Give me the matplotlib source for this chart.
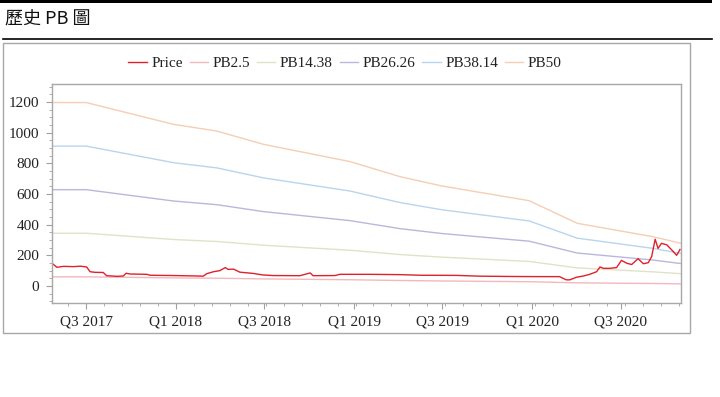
import matplotlib
matplotlib.use('Agg')
import matplotlib.pyplot as plt
import pandas as pd
from matplotlib.ticker import MultipleLocator, AutoMinorLocator
from matplotlib.patches import Rectangle
from matplotlib.lines import Line2D

# book-value based PB bands (breakpoints, straight lines between them)
pb_dates = ['2017-04-22', '2017-07-01', '2017-12-27', '2018-03-26', '2018-06-29', '2018-12-24',
            '2019-04-05', '2019-06-30', '2019-12-26', '2020-04-02', '2020-09-05', '2020-11-01']
pb2_5 = [59.8, 59.8, 52.7, 50.5, 46.2, 40.6, 35.7, 32.6, 27.8, 20.5, 16.1, 13.9]
pb14_38 = [344, 344, 303, 290, 266, 233, 205, 188, 160, 118, 92, 80]
pb26_26 = [628, 628, 554, 530, 485, 426, 374, 342, 292, 215, 169, 146]
pb38_14 = [912, 912, 804, 770, 705, 619, 544, 497, 424, 312, 245, 212]
pb50 = [1196, 1196, 1054, 1010, 924, 811, 713, 652, 556, 409, 321, 278]

# share price
price_dates = ['2017-04-22', '2017-05-02', '2017-05-16', '2017-06-05', '2017-06-19', '2017-07-02',
               '2017-07-09', '2017-07-19', '2017-08-05', '2017-08-12', '2017-09-02', '2017-09-15',
               '2017-09-21', '2017-09-29', '2017-11-02', '2017-11-09', '2017-12-27', '2018-01-31',
               '2018-02-26', '2018-03-05', '2018-03-19', '2018-04-01', '2018-04-12', '2018-04-18',
               '2018-04-29', '2018-05-12', '2018-06-08', '2018-06-28', '2018-07-19', '2018-09-12',
               '2018-10-03', '2018-10-09', '2018-11-23', '2018-12-03', '2019-02-03', '2019-04-05',
               '2019-05-16', '2019-07-30', '2019-09-15', '2019-11-16', '2020-01-16', '2020-02-26',
               '2020-03-11', '2020-03-18', '2020-04-01', '2020-04-15', '2020-04-28', '2020-05-12',
               '2020-05-19', '2020-05-26', '2020-06-08', '2020-06-22', '2020-07-02', '2020-07-13',
               '2020-07-23', '2020-08-05', '2020-08-16', '2020-08-26', '2020-09-02', '2020-09-09',
               '2020-09-15', '2020-09-22', '2020-10-03', '2020-10-13', '2020-10-23', '2020-10-30']
price = [148, 122, 128, 126, 129, 124,
         93, 89, 88, 67, 63, 65,
         83, 78, 76, 70, 68, 66,
         64, 80, 93, 100, 120, 108,
         110, 90, 82, 72, 68, 67,
         85, 67, 68, 76, 76, 74,
         70, 69, 64, 62, 61, 61,
         40, 40, 57, 65, 76, 93,
         124, 115, 115, 120, 167, 148,
         140, 178, 145, 152, 193, 305,
         245, 278, 268, 235, 200, 238]

tick_dates = ['2017-07-01', '2018-01-01', '2018-07-01', '2019-01-01',
              '2019-07-01', '2020-01-01', '2020-07-01']
tick_labels = ['Q3 2017', 'Q1 2018', 'Q3 2018', 'Q1 2019', 'Q3 2019', 'Q1 2020', 'Q3 2020']

plt.rcParams['font.family'] = ['Liberation Serif', 'DejaVu Serif']

W, H = 720, 397
fig = plt.figure(figsize=(W / 100, H / 100), dpi=100)

# page header decoration
fig.add_artist(Rectangle((0, 1 - 3 / H), 712 / W, 3 / H, transform=fig.transFigure,
                         color='black', lw=0))
fig.add_artist(Line2D([3 / W, 712 / W], [1 - 38.5 / H] * 2, transform=fig.transFigure,
                      color='black', lw=1.2))
fig.text(5 / W, 1 - 20 / H, '歷史 PB 圖', family=['Noto Sans CJK TC', 'DejaVu Sans'],
         fontsize=13, fontweight='light', va='center', ha='left', color='#111111')
fig.add_artist(Rectangle((3 / W, 1 - 333 / H), 687 / W, 290 / H, transform=fig.transFigure,
                         fill=False, edgecolor='#a8a8a8', lw=1))

ax = fig.add_axes([52 / W, 1 - 303 / H, 629 / W, 219 / H])

pbd = pd.to_datetime(pb_dates)
ax.plot(pbd, pb50, color='#f6cdb5', lw=1, label='PB50')
ax.plot(pbd, pb38_14, color='#b9d5ee', lw=1, label='PB38.14')
ax.plot(pbd, pb26_26, color='#b8b8dc', lw=1, label='PB26.26')
ax.plot(pbd, pb14_38, color='#e2e2c8', lw=1, label='PB14.38')
ax.plot(pbd, pb2_5, color='#f2b8c0', lw=1, label='PB2.5')
ax.plot(pd.to_datetime(price_dates), price, color='#e0202a', lw=1.0, label='Price')

ax.set_xlim(pbd[0], pbd[-1])
ax.set_ylim(-111, 1317)
ax.set_yticks(range(0, 1201, 200))
ax.yaxis.set_minor_locator(MultipleLocator(50))
ax.set_xticks(pd.to_datetime(tick_dates))
ax.set_xticklabels(tick_labels)
ax.xaxis.set_minor_locator(AutoMinorLocator(5))

for s in ax.spines.values():
    s.set_color('#a8a8a8')
    s.set_linewidth(1)
ax.tick_params(which='both', direction='out', color='#a0a0a0', labelsize=11,
               labelcolor='#222222', top=False, right=False)
ax.tick_params(which='major', length=4, pad=5)
ax.tick_params(which='minor', length=2)
ax.tick_params(axis='x', pad=5)

handles, labels = ax.get_legend_handles_labels()
order = ['Price', 'PB2.5', 'PB14.38', 'PB26.26', 'PB38.14', 'PB50']
hmap = dict(zip(labels, handles))
fig.legend([hmap[k] for k in order], order, loc='center', bbox_to_anchor=(345 / W, 1 - 63 / H),
           ncol=6, frameon=False, fontsize=11, handlelength=1.2, handletextpad=0.3,
           columnspacing=0.45, labelcolor='#222222')

fig.savefig('out.png', dpi=100)
